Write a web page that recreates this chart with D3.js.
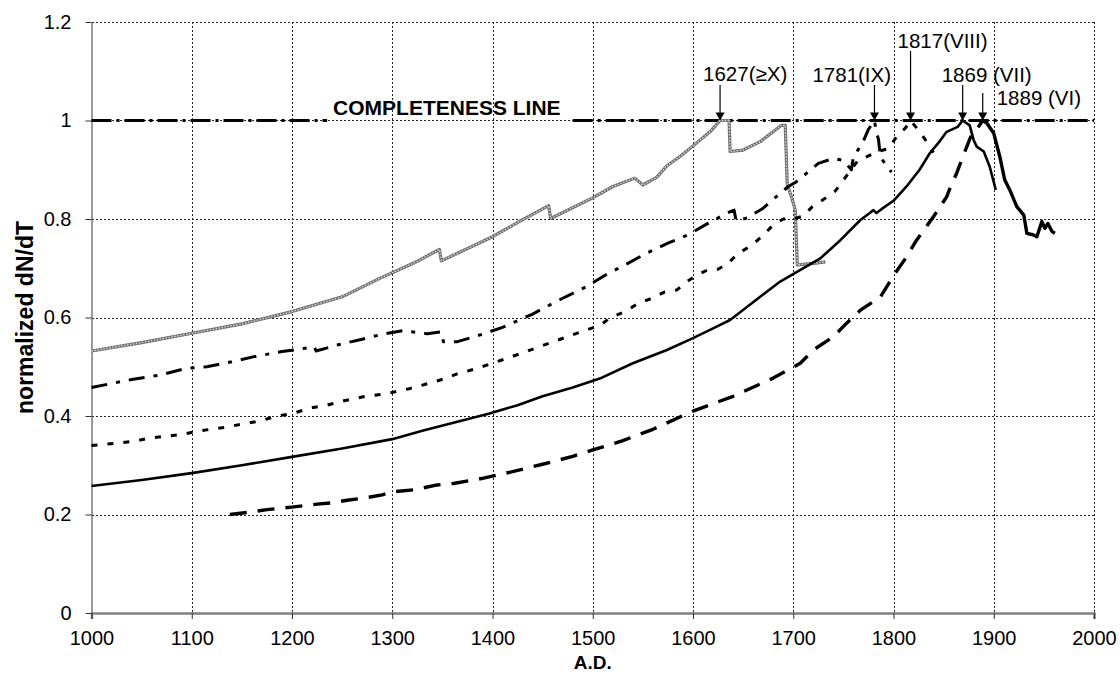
<!DOCTYPE html>
<html>
<head>
<meta charset="utf-8">
<script src="https://cdn.jsdelivr.net/npm/d3@7"></script>
<style>
  body { margin: 0; background: #fff; }
  svg { display: block; font-family: Arial, "Liberation Sans", sans-serif; }
</style>
</head>
<body>
<svg id="chart" width="1120" height="689"></svg>
<script>
// ---- data ----
const xTicks = [1000, 1100, 1200, 1300, 1400, 1500, 1600, 1700, 1800, 1900, 2000];
const yTicks = [0, 0.2, 0.4, 0.6, 0.8, 1, 1.2];
const yTickLabels = ["0", "0.2", "0.4", "0.6", "0.8", "1", "1.2"];

// intensity class >= X
const seriesGeX = [
  [1000,0.532],[1050,0.549],[1100,0.568],[1150,0.587],[1200,0.612],[1250,0.642],
  [1288,0.68],[1321,0.71],[1347,0.738],[1349,0.715],[1400,0.764],[1427,0.795],
  [1456,0.827],[1458,0.801],[1500,0.843],[1520,0.866],[1542,0.883],[1550,0.869],
  [1564,0.885],[1574,0.908],[1587,0.927],[1601,0.95],[1617,0.977],[1627,1.0],
  [1636,1.0],[1637,0.937],[1650,0.94],[1667,0.957],[1688,0.99],[1692,0.99],
  [1694,0.87],[1699,0.84],[1702,0.818],[1704,0.707],[1720,0.71],[1732,0.713]
];
// intensity class IX
const seriesIX = [
  [1000,0.458],[1040,0.474],[1068,0.483],[1095,0.497],[1115,0.5],[1140,0.51],
  [1161,0.52],[1190,0.531],[1206,0.535],[1222,0.541],[1224,0.532],[1245,0.544],
  [1270,0.556],[1290,0.566],[1310,0.573],[1335,0.567],[1349,0.571],[1351,0.551],
  [1365,0.551],[1390,0.566],[1410,0.58],[1440,0.607],[1467,0.636],[1494,0.663],
  [1514,0.688],[1535,0.71],[1554,0.731],[1575,0.751],[1595,0.768],[1614,0.79],
  [1634,0.812],[1641,0.818],[1643,0.796],[1654,0.802],[1670,0.822],[1680,0.84],
  [1695,0.866],[1702,0.874],[1714,0.894],[1725,0.913],[1740,0.923],[1750,0.919],
  [1758,0.9],[1760,0.926],[1769,0.954],[1775,0.982],[1781,1.0],[1783,0.975],
  [1785,0.962],[1787,0.925],[1798,0.895]
];
// intensity class VIII
const seriesVIII = [
  [1000,0.34],[1040,0.348],[1058,0.355],[1091,0.363],[1108,0.37],[1130,0.376],
  [1152,0.384],[1168,0.39],[1185,0.4],[1200,0.405],[1218,0.416],[1235,0.422],
  [1252,0.431],[1271,0.439],[1294,0.445],[1318,0.456],[1334,0.465],[1351,0.475],
  [1364,0.485],[1385,0.497],[1420,0.521],[1450,0.543],[1480,0.565],[1508,0.585],
  [1517,0.599],[1532,0.612],[1544,0.627],[1559,0.639],[1572,0.652],[1584,0.656],
  [1594,0.673],[1604,0.686],[1614,0.696],[1625,0.698],[1635,0.71],[1645,0.73],
  [1659,0.747],[1670,0.767],[1680,0.788],[1690,0.8],[1700,0.8],[1710,0.806],
  [1719,0.825],[1729,0.838],[1742,0.857],[1750,0.879],[1765,0.92],[1774,0.927],
  [1784,0.937],[1795,0.943],[1803,0.967],[1812,0.985],[1817,1.0],[1821,0.99],
  [1827,0.975],[1832,0.96],[1836,0.945],[1840,0.935]
];
// intensity class VII
const seriesVII = [
  [1000,0.258],[1050,0.27],[1100,0.284],[1150,0.3],[1200,0.317],[1250,0.334],
  [1300,0.353],[1330,0.37],[1364,0.388],[1397,0.405],[1425,0.422],[1450,0.44],
  [1480,0.458],[1507,0.476],[1540,0.507],[1574,0.534],[1600,0.558],[1620,0.578],
  [1637,0.595],[1667,0.642],[1687,0.673],[1705,0.694],[1727,0.72],[1747,0.757],
  [1767,0.798],[1775,0.81],[1780,0.818],[1783,0.812],[1788,0.82],[1800,0.837],
  [1813,0.866],[1826,0.9],[1836,0.933],[1845,0.955],[1853,0.977],[1864,0.987],
  [1869,1.0],[1876,0.99],[1880,0.96],[1883,0.947],[1890,0.937],[1896,0.906],
  [1902,0.859]
];
// intensity class VI
const seriesVI = [
  [1138,0.2],[1155,0.204],[1175,0.21],[1200,0.215],[1225,0.221],[1241,0.224],
  [1255,0.229],[1271,0.233],[1290,0.24],[1301,0.246],[1321,0.25],[1345,0.26],
  [1361,0.263],[1389,0.273],[1420,0.287],[1450,0.302],[1480,0.318],[1500,0.331],
  [1530,0.35],[1560,0.373],[1600,0.41],[1640,0.44],[1680,0.477],[1707,0.507],
  [1720,0.534],[1740,0.561],[1753,0.588],[1767,0.615],[1787,0.642],[1800,0.685],
  [1813,0.723],[1823,0.757],[1840,0.805],[1853,0.845],[1857,0.866],[1863,0.893],
  [1868,0.92],[1877,0.967],[1884,0.985],[1889,1.0],[1893,0.995],[1900,0.974],
  [1906,0.927],[1911,0.879],[1916,0.859],[1923,0.825],[1930,0.808],[1933,0.771],
  [1939,0.768],[1943,0.764],[1948,0.795],[1951,0.781],[1954,0.791],[1958,0.775],
  [1961,0.771]
];

// completeness level, drawn in two pieces around its caption
const completenessValue = 1;
const completenessSpans = [[1000, 1235], [1480, 2000]];
const completenessText = "COMPLETENESS LINE";

// completeness years per intensity class
const peakYears = [1627, 1781, 1817, 1869, 1889];
const peakLabels = ["1627(\u2265X)", "1781(IX)", "1817(VIII)", "1869 (VII)", "1889 (VI)"];

// ---- layout ----
const svg = d3.select("#chart");
const x = d3.scaleLinear().domain([1000, 2000]).range([91.5, 1094]);
const y = d3.scaleLinear().domain([0, 1.2]).range([613, 22]);

// gridlines
const grid = svg.append("g").attr("stroke", "#222").attr("stroke-width", 1)
  .attr("stroke-dasharray", "2,2").attr("shape-rendering", "crispEdges");
grid.selectAll("line.h").data(yTicks.filter(v => v > 0)).join("line")
  .attr("x1", x(1000)).attr("x2", x(2000))
  .attr("y1", d => Math.round(y(d)) + 0.5).attr("y2", d => Math.round(y(d)) + 0.5);
grid.selectAll("line.v").data(xTicks.filter(v => v > 1000)).join("line")
  .attr("y1", y(1.2)).attr("y2", y(0))
  .attr("x1", d => Math.round(x(d)) + 0.5).attr("x2", d => Math.round(x(d)) + 0.5);

// axes
const xAxis = d3.axisBottom(x).tickValues(xTicks).tickFormat(d3.format("d"))
  .tickSize(6).tickPadding(12);
const gx = svg.append("g").attr("transform", `translate(0,${y(0)})`).call(xAxis);
gx.select(".domain").attr("stroke", "#808080").attr("stroke-width", 2.5);
gx.selectAll(".tick line").attr("stroke", "#333");
gx.selectAll("text").attr("font-size", 20).attr("fill", "#000")
  .attr("font-family", "Arial, 'Liberation Sans', sans-serif");

const yAxis = d3.axisLeft(y).tickValues(yTicks).tickFormat((d, i) => yTickLabels[i])
  .tickSize(6).tickPadding(14).tickSizeOuter(0);
const gy = svg.append("g").attr("transform", `translate(${x(1000)},0)`).call(yAxis);
gy.select(".domain").attr("stroke", "#555").attr("stroke-width", 1.2);
gy.selectAll(".tick line").attr("stroke", "#333");
gy.selectAll("text").attr("font-size", 20).attr("fill", "#000")
  .attr("font-family", "Arial, 'Liberation Sans', sans-serif");

// axis titles
svg.append("text").attr("x", x(1500)).attr("y", 669).attr("text-anchor", "middle")
  .attr("font-size", 19).attr("font-weight", "bold").text("A.D.");
svg.append("text").attr("transform", `translate(33,${y(0.6)}) rotate(-90)`)
  .attr("text-anchor", "middle").attr("font-size", 23).attr("font-weight", "bold")
  .text("normalized dN/dT");

// completeness line
const line = d3.line().x(d => x(d[0])).y(d => y(d[1]));
svg.append("g").selectAll("path").data(completenessSpans).join("path")
  .attr("d", s => line([[s[0], completenessValue], [s[1], completenessValue]]))
  .attr("fill", "none").attr("stroke", "#000").attr("stroke-width", 3.2)
  .attr("stroke-dasharray", "20,5,3,5");
svg.append("text").attr("x", x(1235) + 6).attr("y", y(completenessValue) - 6)
  .attr("font-size", 21).attr("font-weight", "bold").text(completenessText);

// curves
const plot = svg.append("g").attr("fill", "none").attr("stroke-linejoin", "round");

// >= X : grey hatched stroke
plot.append("path").attr("d", line(seriesGeX))
  .attr("stroke", "#6e6e6e").attr("stroke-width", 3.2);
plot.append("path").attr("d", line(seriesGeX))
  .attr("stroke", "#d8d8d8").attr("stroke-width", 1.4).attr("stroke-dasharray", "1.5,1.5");

// IX : dash-dot
plot.append("path").attr("d", line(seriesIX))
  .attr("stroke", "#000").attr("stroke-width", 3).attr("stroke-dasharray", "16,9,4,9");

// VIII : short dashes
plot.append("path").attr("d", line(seriesVIII))
  .attr("stroke", "#000").attr("stroke-width", 3).attr("stroke-dasharray", "6,10");

// VII : solid
plot.append("path").attr("d", line(seriesVII))
  .attr("stroke", "#000").attr("stroke-width", 2.6);

// VI : long dashes, dense after the maximum
const viPeak = peakYears[4];
plot.append("path").attr("d", line(seriesVI.filter(d => d[0] <= viPeak)))
  .attr("stroke", "#000").attr("stroke-width", 3.4).attr("stroke-dasharray", "17,11");
plot.append("path").attr("d", line(seriesVI.filter(d => d[0] >= viPeak)))
  .attr("stroke", "#000").attr("stroke-width", 3.4);

// peak annotations: label + arrow pointing to the completeness line
const labelPlacement = [
  { dx: -17, base: 81, top: 85 },
  { dx: -62, base: 82, top: 85 },
  { dx: -13, base: 48, top: 51 },
  { dx: -21, base: 82, top: 85 },
  { dx: 14,  base: 105, top: 93 }
];
const ann = svg.append("g");
peakYears.forEach((yr, i) => {
  const px = x(yr), py = y(completenessValue), p = labelPlacement[i];
  ann.append("line").attr("x1", px).attr("x2", px).attr("y1", p.top).attr("y2", py - 6)
    .attr("stroke", "#000").attr("stroke-width", 1.2);
  ann.append("path").attr("d", `M${px - 4.5},${py - 8}L${px + 4.5},${py - 8}L${px},${py}Z`)
    .attr("fill", "#000");
  ann.append("text").attr("x", px + p.dx).attr("y", p.base)
    .attr("font-size", 20.5).attr("fill", "#000").text(peakLabels[i]);
});
</script>
</body>
</html>
